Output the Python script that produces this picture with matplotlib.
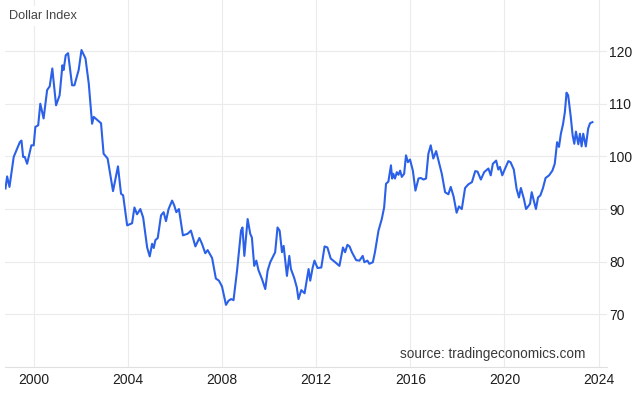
import matplotlib
matplotlib.use('Agg')
import matplotlib.pyplot as plt

# dollar index, points (decimal year, value)
years = [1998.80, 1998.87, 1998.97, 1999.15, 1999.41, 1999.48, 1999.55, 1999.62, 1999.72, 1999.90,
         2000.00, 2000.07, 2000.19, 2000.28, 2000.42, 2000.57, 2000.68, 2000.79, 2000.95, 2001.10,
         2001.22, 2001.27, 2001.36, 2001.46, 2001.63, 2001.73, 2001.91, 2002.03, 2002.20, 2002.34,
         2002.48, 2002.55, 2002.86, 2002.97, 2003.14, 2003.37, 2003.58, 2003.71, 2003.80, 2003.97,
         2004.18, 2004.28, 2004.39, 2004.53, 2004.65, 2004.82, 2004.93, 2005.03, 2005.10, 2005.17,
         2005.27, 2005.41, 2005.52, 2005.62, 2005.73, 2005.88, 2005.97, 2006.06, 2006.17, 2006.34,
         2006.54, 2006.68, 2006.87, 2007.04, 2007.15, 2007.29, 2007.39, 2007.58, 2007.74, 2007.87,
         2008.00, 2008.17, 2008.28, 2008.39, 2008.49, 2008.64, 2008.81, 2008.87, 2008.95, 2009.09,
         2009.20, 2009.27, 2009.37, 2009.46, 2009.55, 2009.70, 2009.84, 2009.94, 2010.05, 2010.26,
         2010.36, 2010.45, 2010.55, 2010.62, 2010.76, 2010.86, 2010.93, 2011.07, 2011.18, 2011.25,
         2011.37, 2011.51, 2011.68, 2011.75, 2011.85, 2011.93, 2012.06, 2012.22, 2012.36, 2012.48,
         2012.62, 2012.81, 2012.99, 2013.14, 2013.23, 2013.33, 2013.42, 2013.52, 2013.70, 2013.84,
         2013.98, 2014.05, 2014.18, 2014.26, 2014.41, 2014.50, 2014.65, 2014.79, 2014.89, 2014.97,
         2015.07, 2015.18, 2015.23, 2015.28, 2015.35, 2015.43, 2015.50, 2015.57, 2015.64, 2015.74,
         2015.82, 2015.90, 2015.99, 2016.11, 2016.22, 2016.35, 2016.45, 2016.56, 2016.67, 2016.77,
         2016.87, 2016.98, 2017.10, 2017.20, 2017.34, 2017.48, 2017.62, 2017.72, 2017.84, 2017.97,
         2018.07, 2018.19, 2018.33, 2018.47, 2018.62, 2018.76, 2018.86, 2019.00, 2019.14, 2019.32,
         2019.42, 2019.51, 2019.65, 2019.74, 2019.81, 2019.91, 2020.03, 2020.17, 2020.26, 2020.40,
         2020.52, 2020.62, 2020.70, 2020.83, 2020.92, 2021.01, 2021.09, 2021.16, 2021.25, 2021.34,
         2021.43, 2021.53, 2021.64, 2021.75, 2021.90, 2022.04, 2022.14, 2022.24, 2022.32, 2022.40,
         2022.49, 2022.57, 2022.64, 2022.71, 2022.82, 2022.90, 2022.97, 2023.04, 2023.14, 2023.21,
         2023.28, 2023.35, 2023.46, 2023.56, 2023.64, 2023.74]
values = [93.9, 96.2, 94.2, 99.9, 102.7, 103.0, 99.9, 99.9, 98.6, 102.1,
          102.1, 105.6, 105.9, 110.0, 107.2, 112.6, 113.3, 116.7, 109.7, 111.6,
          117.3, 116.4, 119.2, 119.6, 113.5, 113.5, 116.4, 120.2, 118.6, 113.8,
          106.2, 107.5, 106.3, 100.5, 99.6, 93.4, 98.1, 92.9, 92.6, 86.9,
          87.3, 90.3, 89.0, 90.0, 88.4, 82.7, 81.0, 83.4, 82.6, 84.1,
          84.5, 88.8, 89.4, 87.7, 90.0, 91.6, 90.7, 89.4, 90.0, 85.0,
          85.3, 85.9, 82.9, 84.5, 83.4, 81.6, 82.2, 80.7, 76.8, 76.4,
          75.3, 71.8, 72.6, 72.9, 72.7, 78.3, 85.9, 86.5, 81.1, 88.1,
          85.3, 84.6, 79.2, 80.2, 78.4, 76.7, 74.8, 78.3, 79.9, 81.8,
          86.5, 85.9, 81.8, 83.0, 77.3, 81.1, 78.6, 76.9, 75.1, 72.9,
          74.6, 74.0, 78.6, 76.4, 78.8, 80.2, 78.8, 78.9, 82.9, 82.7,
          80.6, 79.9, 79.2, 82.7, 81.8, 83.2, 82.9, 81.8, 80.3, 80.2,
          81.1, 79.9, 80.2, 79.6, 79.9, 81.8, 85.9, 88.1, 90.3, 94.8,
          95.2, 98.3, 95.8, 96.7, 95.8, 97.0, 96.5, 97.3, 96.1, 96.7,
          100.2, 98.9, 99.4, 97.3, 93.5, 95.8, 95.9, 95.6, 95.8, 100.5,
          102.1, 99.6, 101.0, 99.2, 96.7, 93.2, 92.8, 94.2, 92.4, 89.3,
          90.5, 90.0, 94.0, 94.7, 95.1, 97.2, 97.1, 95.6, 97.0, 97.7,
          96.4, 98.6, 99.2, 97.5, 98.0, 96.4, 97.7, 99.1, 98.9, 97.5,
          93.8, 92.2, 94.0, 91.9, 90.0, 90.5, 91.0, 93.2, 91.6, 90.0,
          92.2, 92.6, 94.0, 95.9, 96.4, 97.3, 98.6, 102.7, 101.8, 104.3,
          106.1, 108.4, 112.1, 111.6, 107.5, 104.0, 102.4, 104.7, 102.3, 104.3,
          101.9, 104.3, 101.9, 105.3, 106.3, 106.5]

xticks = [2000, 2004, 2008, 2012, 2016, 2020, 2024]
yticks = [70, 80, 90, 100, 110, 120]

plt.rcParams['font.family'] = ['Liberation Sans', 'DejaVu Sans']

fig = plt.figure(figsize=(6.4, 3.93), dpi=100)
ax = fig.add_axes([5/640, 26/393, 602/640, 367/393])

ax.plot(years, values, color='#2b60e8', lw=1.5, solid_joinstyle='round')

ax.set_xlim(1998.78, 2024.36)
ax.set_ylim(60, 129.7)
ax.set_xticks(xticks)
ax.set_xticklabels([str(x) for x in xticks])
ax.set_yticks(yticks)
ax.yaxis.tick_right()
ax.tick_params(axis='both', length=0, labelsize=10, colors='#1e1e1e')
ax.tick_params(axis='y', pad=1.5)
ax.tick_params(axis='x', pad=4)
ax.grid(True, color='#ebebeb', lw=0.8)
ax.set_axisbelow(True)

for s in ['top', 'left', 'right']:
    ax.spines[s].set_visible(False)
ax.spines['bottom'].set_color('#e0e0e0')
ax.spines['bottom'].set_linewidth(0.8)

fig.text(9/640, 1 - 16/393, 'Dollar Index', fontsize=9.2, color='#444444', va='center', ha='left',
         bbox=dict(facecolor='white', edgecolor='none', pad=3))
fig.text(585/640, 1 - 354/393, 'source: tradingeconomics.com', fontsize=9.8, color='#3a3a3a',
         va='center', ha='right')

fig.savefig('out.png', dpi=100)
